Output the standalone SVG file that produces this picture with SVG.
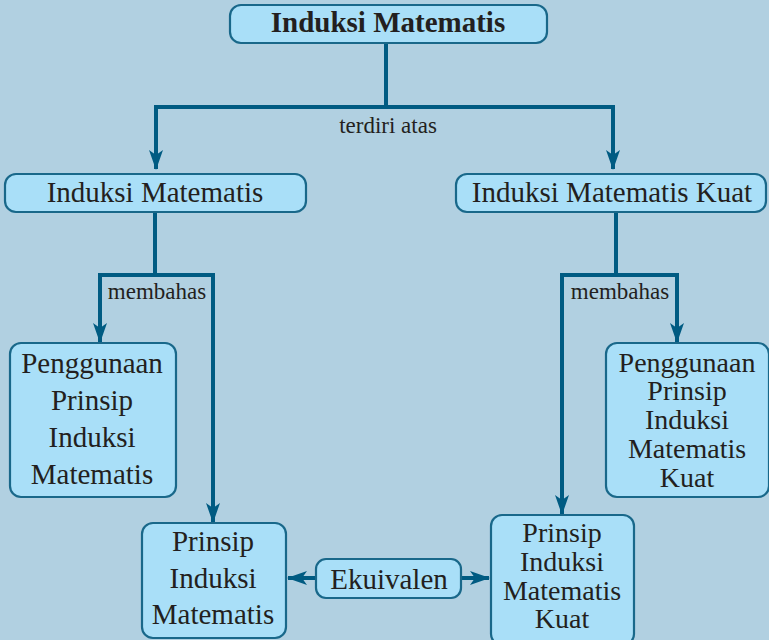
<svg xmlns="http://www.w3.org/2000/svg" width="769" height="640" viewBox="0 0 769 640">
<style>
.box{fill:#A9DFF8;stroke:#19688A;stroke-width:2.2}
text{font-family:'Times New Roman','Liberation Serif',Times,'DejaVu Serif',serif;fill:#231F20;text-anchor:middle}
.t{font-size:29px}
.k{font-size:28px}
.b{font-weight:bold}
.lbl{font-size:23px}
.c{fill:none;stroke:#005B82;stroke-width:4}
</style>
<defs>
<marker id="ah" viewBox="0 0 20 14" refX="19" refY="7" markerWidth="20" markerHeight="14" markerUnits="userSpaceOnUse" orient="auto">
<path d="M0,0 L20,7 L0,14 L5,7 Z" fill="#005B82"/>
</marker>
</defs>
<rect width="769" height="640" fill="#B1D0E1"/>
<g id="connectors">
<path class="c" d="M386,43 V107"/>
<path class="c" d="M156,107 H613"/>
<path class="c" d="M156,105 V169" marker-end="url(#ah)"/>
<path class="c" d="M613,105 V169" marker-end="url(#ah)"/>
<path class="c" d="M155,212 V275"/>
<path class="c" d="M100,275 H215"/>
<path class="c" d="M100,273 V342" marker-end="url(#ah)"/>
<path class="c" d="M213,273 V522" marker-end="url(#ah)"/>
<path class="c" d="M616,212 V275"/>
<path class="c" d="M560,275 H679"/>
<path class="c" d="M562,273 V514" marker-end="url(#ah)"/>
<path class="c" d="M677,273 V342" marker-end="url(#ah)"/>
<path class="c" d="M316,578 H288" marker-end="url(#ah)"/>
<path class="c" d="M461,578 H489" marker-end="url(#ah)"/>
<text class="lbl" x="388" y="133">terdiri atas</text>
<text class="lbl" x="157" y="299">membahas</text>
<text class="lbl" x="620" y="299">membahas</text>
</g>
<g id="top">
<rect class="box" x="230" y="5" width="317" height="38" rx="11"/>
<text class="t b" x="388" y="32">Induksi Matematis</text>
</g>
<g id="im">
<rect class="box" x="5" y="174" width="301" height="38" rx="11"/>
<text class="t" x="155" y="202">Induksi Matematis</text>
</g>
<g id="imk">
<rect class="box" x="456" y="174" width="310" height="38" rx="11"/>
<text class="t" x="612" y="202">Induksi Matematis Kuat</text>
</g>
<g id="ppim">
<rect class="box" x="10" y="343" width="166" height="154" rx="11"/>
<text class="t" x="92" y="373">Penggunaan</text>
<text class="t" x="92" y="410">Prinsip</text>
<text class="t" x="92" y="447">Induksi</text>
<text class="t" x="92" y="484">Matematis</text>
</g>
<g id="pim">
<rect class="box" x="142" y="523" width="144" height="115" rx="11"/>
<text class="t" x="213" y="551">Prinsip</text>
<text class="t" x="213" y="588">Induksi</text>
<text class="t" x="213" y="624">Matematis</text>
</g>
<g id="ekuivalen">
<rect class="box" x="316" y="559" width="145" height="39" rx="10"/>
<text class="t" x="389" y="589">Ekuivalen</text>
</g>
<g id="ppimk">
<rect class="box" x="606" y="343" width="163" height="154" rx="11"/>
<text class="k" x="687" y="372">Penggunaan</text>
<text class="k" x="687" y="400">Prinsip</text>
<text class="k" x="687" y="429">Induksi</text>
<text class="k" x="687" y="458">Matematis</text>
<text class="k" x="687" y="487">Kuat</text>
</g>
<g id="pimk">
<rect class="box" x="491" y="515" width="143" height="130" rx="11"/>
<text class="k" x="562" y="542">Prinsip</text>
<text class="k" x="562" y="571">Induksi</text>
<text class="k" x="562" y="600">Matematis</text>
<text class="k" x="562" y="628">Kuat</text>
</g>
</svg>
